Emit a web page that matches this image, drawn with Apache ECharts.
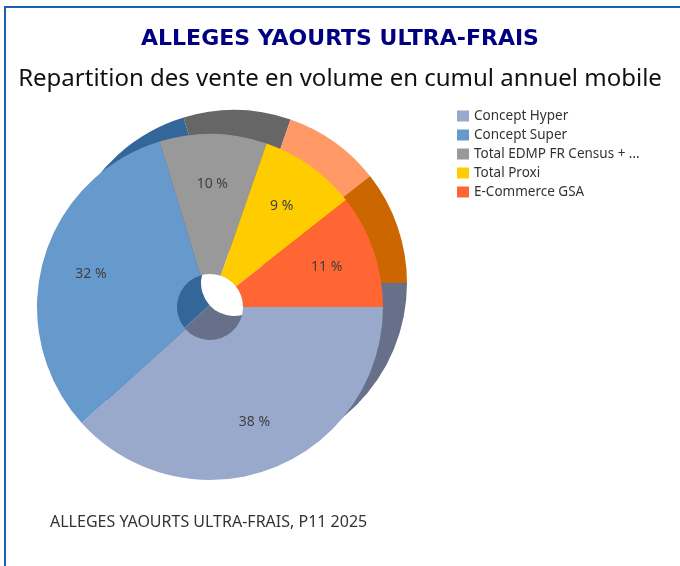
<!DOCTYPE html>
<html>
<head>
<meta charset="utf-8">
<script src="https://cdn.jsdelivr.net/npm/echarts@6/dist/echarts.min.js"></script>
<style>
  html, body { margin: 0; padding: 0; background: #fff; }
  #main { width: 680px; height: 566px; }
</style>
</head>
<body>
<div id="main"></div>
<script>
// données
var categories = ['Concept Hyper', 'Concept Super', 'Total EDMP FR Census + ...', 'Total Proxi', 'E-Commerce GSA'];
var parts = [38.3, 32.0, 10.0, 9.1, 10.6];
var couleurs = ['#99A9CC', '#6699CC', '#999999', '#FFCC00', '#FF6633'];
var ombres = ['#667088', '#336699', '#666666', '#FF9966', '#CC6600'];

var font = 'Noto Sans';

function buildData(cols) {
    return categories.map(function (c, i) {
        return { name: c, value: parts[i], itemStyle: { color: cols[i] } };
    });
}

var myecharts = echarts.init(document.getElementById('main'));
var option = {
    animation: false,
    title: [
        {
            text: 'ALLEGES YAOURTS ULTRA-FRAIS',
            left: 'center',
            top: 23,
            textStyle: { color: '#000080', fontSize: 22, fontWeight: 'bold', fontFamily: 'DejaVu Sans' }
        },
        {
            text: 'Repartition des vente en volume en cumul annuel mobile',
            left: 'center',
            top: 62,
            textStyle: { color: '#111', fontSize: 24, fontWeight: 'normal', fontFamily: font }
        },
        {
            text: 'ALLEGES YAOURTS ULTRA-FRAIS, P11 2025',
            left: 45,
            top: 509,
            textStyle: { color: '#333', fontSize: 16, fontWeight: 'normal', fontFamily: font }
        }
    ],
    legend: {
        orient: 'vertical',
        left: 452,
        top: 104,
        itemWidth: 12,
        itemHeight: 11,
        itemGap: 5,
        textStyle: { color: '#333', fontSize: 13.5, fontFamily: font },
        data: categories.map(function (c, i) {
            return { name: c, icon: 'rect', itemStyle: { color: couleurs[i] } };
        })
    },
    graphic: [
        { type: 'line', shape: { x1: 5, y1: 7, x2: 5, y2: 566 }, style: { stroke: '#1F5FAF', lineWidth: 2 } },
        { type: 'line', shape: { x1: 4, y1: 7, x2: 680, y2: 7 }, style: { stroke: '#1F5FAF', lineWidth: 2 } }
    ],
    series: [
        {
            // fond décalé (ombre)
            name: 'ombre',
            type: 'pie',
            center: [234, 283],
            radius: [33, 173],
            startAngle: 0,
            clockwise: true,
            z: 1,
            silent: true,
            label: { show: false },
            labelLine: { show: false },
            data: buildData(ombres)
        },
        {
            name: 'ventes',
            type: 'pie',
            center: [210, 307],
            radius: [33, 173],
            startAngle: 0,
            clockwise: true,
            z: 2,
            silent: true,
            label: { show: false },
            labelLine: { show: false },
            data: buildData(couleurs)
        },
        {
            // étiquettes
            name: 'etiquettes',
            type: 'pie',
            center: [210, 307],
            radius: [68, 173],
            startAngle: 0,
            clockwise: true,
            z: 3,
            silent: true,
            percentPrecision: 0,
            itemStyle: { color: 'rgba(0,0,0,0)' },
            label: {
                show: true,
                position: 'inside',
                formatter: '{d} %',
                color: '#404040',
                fontSize: 14,
                fontFamily: font
            },
            labelLine: { show: false },
            data: categories.map(function (c, i) {
                return { name: c, value: parts[i], itemStyle: { color: 'rgba(0,0,0,0)' } };
            })
        }
    ]
};
myecharts.setOption(option);
</script>
</body>
</html>
